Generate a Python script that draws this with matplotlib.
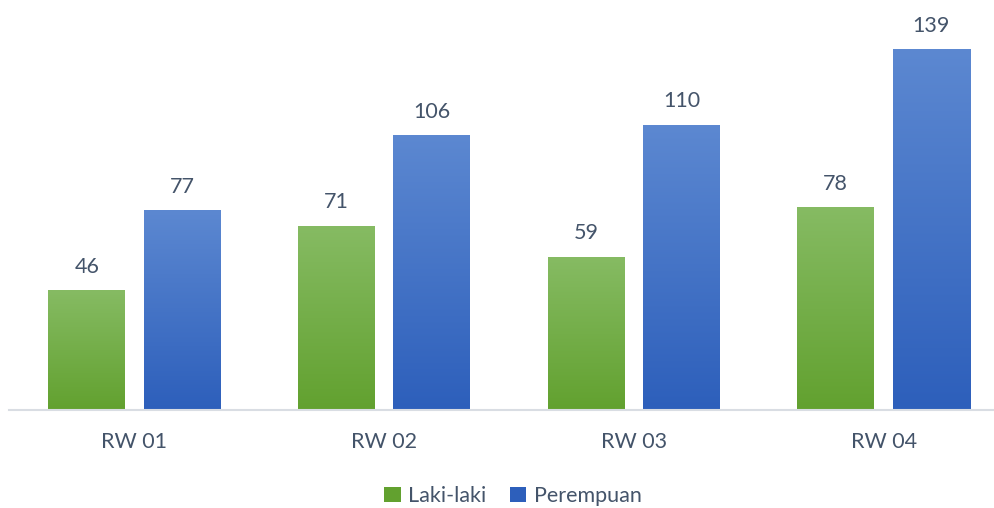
#!/usr/bin/env python3
"""Grouped bar chart: Laki-laki vs Perempuan per RW."""

import matplotlib
matplotlib.use('Agg')
import matplotlib.pyplot as plt
import numpy as np
from matplotlib.colors import LinearSegmentedColormap
from matplotlib.patches import Patch

categories = ['RW 01', 'RW 02', 'RW 03', 'RW 04']
laki_laki = [46, 71, 59, 78]
perempuan = [77, 106, 110, 139]
series_names = ['Laki-laki', 'Perempuan']

TEXT = '#44546a'
GREEN_TOP, GREEN_BOT = '#86bb63', '#62a12f'
BLUE_TOP, BLUE_BOT = '#5c88d1', '#2d5fbb'

plt.rcParams['font.family'] = ['Lato', 'DejaVu Sans']

W, H = 995, 508
fig = plt.figure(figsize=(W / 100, H / 100), dpi=100)
# axes placed in pixel terms: left 9.5, right 995, baseline 410, top 10
ax = fig.add_axes([9.5 / W, (H - 410) / H, (W - 9.5) / W, 400 / H])

step = 249.7
xlim = ((9.5 - 134.5) / step, (W - 134.5) / step)
ylim = (0, 400 / 2.59)

x = np.arange(len(categories))
width = 77 / step
off = 47.8 / step


def gradient_bars(xpos, vals, top, bot):
    bars = ax.bar(xpos, vals, width, color='none', edgecolor='none')
    cmap = LinearSegmentedColormap.from_list('g', [bot, top])
    grad = np.linspace(0, 1, 256).reshape(-1, 1)
    for b in bars:
        x0, y0 = b.get_x(), b.get_y()
        ax.imshow(grad, cmap=cmap, origin='lower', aspect='auto',
                  extent=(x0, x0 + b.get_width(), y0, y0 + b.get_height()),
                  zorder=2)
    for xi, v in zip(xpos, vals):
        ax.annotate(str(v), (xi, v), xytext=(0, 10), textcoords='offset points',
                    ha='center', va='bottom', color=TEXT, fontsize=15.5)
    return bars


gradient_bars(x - off, laki_laki, GREEN_TOP, GREEN_BOT)
gradient_bars(x + off, perempuan, BLUE_TOP, BLUE_BOT)

# restore limits after imshow
ax.set_xlim(*xlim)
ax.set_ylim(*ylim)

for s in ['top', 'right', 'left']:
    ax.spines[s].set_visible(False)
ax.spines['bottom'].set_color('#d9dde3')
ax.spines['bottom'].set_linewidth(1.5)
ax.set_yticks([])
ax.set_xticks(x)
ax.set_xticklabels(categories, color=TEXT, fontsize=15.5)
ax.tick_params(axis='x', length=0, pad=16)

handles = [Patch(facecolor=GREEN_BOT, edgecolor='none'),
           Patch(facecolor=BLUE_BOT, edgecolor='none')]
fig.legend(handles, series_names, loc='center', bbox_to_anchor=(513 / W, 1 - 496 / H),
           ncol=2, frameon=False, fontsize=15.5, labelcolor=TEXT,
           handlelength=0.75, handleheight=0.75, handletextpad=0.35,
           columnspacing=1.1, borderpad=0)

fig.savefig('out.png', dpi=100)
